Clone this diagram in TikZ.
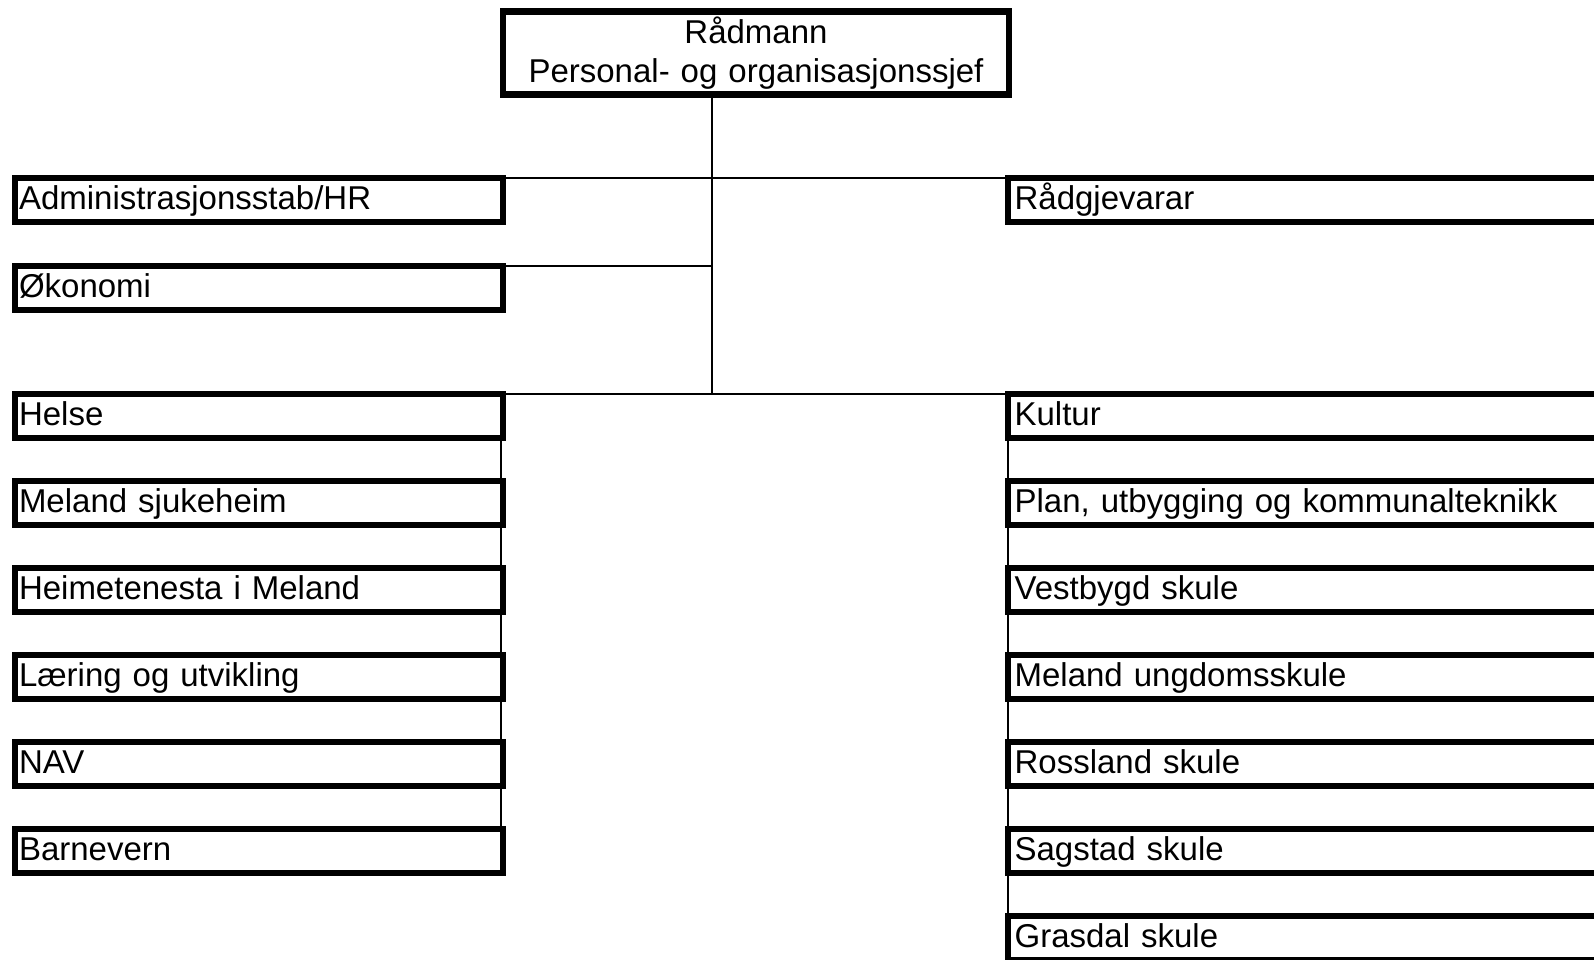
\documentclass[tikz,border=0pt]{standalone}
\usepackage{fontspec}
\setmainfont{Liberation Sans}
\begin{document}
\begin{tikzpicture}[x=0.5pt,y=-0.5pt,
  box/.style={draw=black, line width=3.2pt, rectangle, outer sep=0pt, anchor=north west,
    inner ysep=0pt, text height=15.5pt, text depth=6.5pt, align=left,
    font=\fontsize{16.5}{19.5}\selectfont},
  lbox/.style={box, inner xsep=2pt, text width=240pt},
  rbox/.style={box, inner xsep=3.3pt, text width=309.4pt},
  topbox/.style={draw=black, line width=3.2pt, rectangle, outer sep=0pt, anchor=north west,
    inner ysep=0pt, inner xsep=0pt, text width=253pt, align=center,
    text height=15.75pt, text depth=25.75pt,
    font=\fontsize{16.5}{19.5}\selectfont},
  link/.style={draw=black, line width=1.4pt}]
\useasboundingbox (0,0) rectangle (1594,959);
\clip (0,0) rectangle (1594,959);

% top
\node[topbox] (top) at (503,11.5) {Rådmann\\Personal- og organisasjonssjef};

% left column
\node[lbox] (admin) at (15,178) {Administrasjonsstab/HR};
\node[lbox] (oko) at (15,266) {Økonomi};
\node[lbox] (helse) at (15,394) {Helse};
\node[lbox] (sjuke) at (15,481) {Meland sjukeheim};
\node[lbox] (heime) at (15,568) {Heimetenesta i Meland};
\node[lbox] (laer) at (15,655) {Læring og utvikling};
\node[lbox] (nav) at (15,742) {NAV};
\node[lbox] (barn) at (15,829) {Barnevern};

% right column
\node[rbox] (rad) at (1008,178) {Rådgjevarar};
\node[rbox] (kultur) at (1008,394) {Kultur};
\node[rbox] (plan) at (1008,481) {Plan, utbygging og kommunalteknikk};
\node[rbox] (vest) at (1008,568) {Vestbygd skule};
\node[rbox] (mu) at (1008,655) {Meland ungdomsskule};
\node[rbox] (ross) at (1008,742) {Rossland skule};
\node[rbox] (sag) at (1008,829) {Sagstad skule};
\node[rbox] (gras) at (1008,916) {Grasdal skule};

% connectors
\coordinate (tx) at (712,0);
\draw[link] (top.south -| tx) -- (helse.north -| tx);
\draw[link] (admin.north east) -- (rad.north west);
\draw[link] (oko.north east) -- (oko.north -| tx);
\draw[link] (helse.north east) -- (kultur.north west);
\draw[link] ([xshift=-1pt]helse.south east) -- ([xshift=-1pt]barn.north east);
\draw[link] (kultur.south west) -- (gras.north west);
\end{tikzpicture}
\end{document}
